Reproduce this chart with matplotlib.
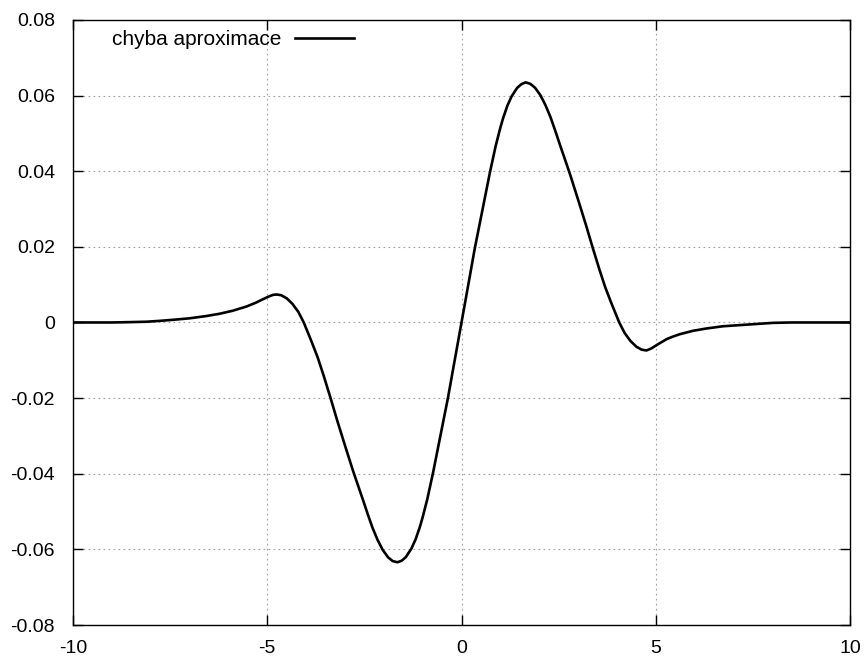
import matplotlib
matplotlib.use("Agg")
import matplotlib.pyplot as plt

plt.rcParams['font.family'] = ['Liberation Sans', 'DejaVu Sans']

# values ("chyba aproximace")
x_vals = [-10.0, -9.0, -8.5, -8.1, -7.8, -7.43, -7.0, -6.57, -6.23, -5.89,
          -5.54, -5.3, -5.1, -4.95, -4.85, -4.76, -4.64, -4.5, -4.35, -4.2,
          -4.06, -3.85, -3.7, -3.55, -3.37, -3.2, -3.0, -2.79, -2.66, -2.53,
          -2.41, -2.29, -2.16, -2.03, -1.89, -1.77, -1.65, -1.54, -1.43, -1.29,
          -1.18, -1.07, -1.0, -0.88, -0.73, -0.54, -0.35, -0.17, 0.0,
          0.17, 0.34, 0.54, 0.73, 0.88, 1.0, 1.07, 1.18, 1.29, 1.43,
          1.54, 1.65, 1.77, 1.89, 2.03, 2.16, 2.29, 2.41, 2.53, 2.66,
          2.79, 3.0, 3.2, 3.37, 3.55, 3.7, 3.85, 4.06, 4.2, 4.35,
          4.5, 4.64, 4.76, 4.88, 5.02, 5.15, 5.28, 5.45, 5.62, 5.96,
          6.3, 6.73, 7.16, 7.59, 8.02, 8.5, 10.0]
y_vals = [0.0, 0.0, 0.0001, 0.0002, 0.0004, 0.0007, 0.0011, 0.0017, 0.0023, 0.0031,
          0.0042, 0.0052, 0.0062, 0.0069, 0.0073, 0.0074, 0.0072, 0.0064, 0.0049, 0.0028,
          0.0, -0.0053, -0.0093, -0.0140, -0.0200, -0.0259, -0.0325, -0.0393, -0.0432, -0.0471,
          -0.0508, -0.0543, -0.0575, -0.0601, -0.0621, -0.0631, -0.0634, -0.0630, -0.0620, -0.0598,
          -0.0573, -0.0540, -0.0515, -0.0467, -0.0396, -0.0298, -0.0200, -0.0097, 0.0,
          0.0097, 0.0195, 0.0298, 0.0396, 0.0467, 0.0515, 0.0540, 0.0573, 0.0598, 0.0620,
          0.0630, 0.0635, 0.0631, 0.0621, 0.0601, 0.0575, 0.0543, 0.0508, 0.0471, 0.0432,
          0.0393, 0.0325, 0.0259, 0.0200, 0.0140, 0.0093, 0.0053, 0.0, -0.0028, -0.0049,
          -0.0064, -0.0072, -0.0074, -0.0069, -0.0060, -0.0052, -0.0044, -0.0037, -0.0031, -0.0022,
          -0.0016, -0.0010, -0.0007, -0.0004, -0.0001, 0.0, 0.0]

x_ticks = [-10, -5, 0, 5, 10]
y_ticks = [-0.08, -0.06, -0.04, -0.02, 0, 0.02, 0.04, 0.06, 0.08]
y_labels = ['-0.08', '-0.06', '-0.04', '-0.02', '0', '0.02', '0.04', '0.06', '0.08']

fig = plt.figure(figsize=(8.67, 6.64), dpi=100)
ax = fig.add_axes([0.0842, 0.0587, 0.8962, 0.9113])

ax.plot(x_vals, y_vals, color='black', linewidth=1.9, label='chyba aproximace')

ax.set_xlim(-10, 10)
ax.set_ylim(-0.08, 0.08)
ax.set_xticks(x_ticks)
ax.set_xticklabels([str(t) for t in x_ticks])
ax.set_yticks(y_ticks)
ax.set_yticklabels(y_labels)

ax.grid(True, color='#a0a0a0', linestyle=(0, (1.5, 3)), linewidth=0.8)
ax.tick_params(direction='in', length=7, width=1.0, top=True, right=True,
               labelsize=14)
ax.tick_params(axis='x', pad=11)
ax.tick_params(axis='y', pad=13)
for s in ax.spines.values():
    s.set_linewidth(1.0)

ax.legend(loc='upper left', bbox_to_anchor=(0.050, 0.983), frameon=False,
          markerfirst=False, handlelength=2.8, handletextpad=0.67,
          fontsize=15, borderpad=0, borderaxespad=0)

fig.savefig('out.png', dpi=100)
